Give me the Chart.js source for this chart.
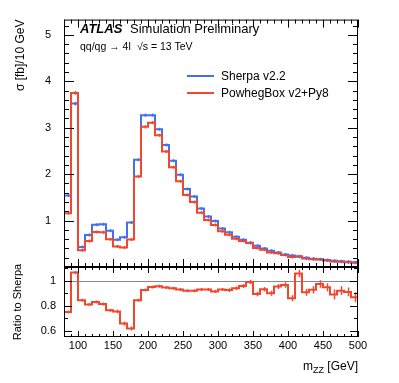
<!DOCTYPE html>
<html>
<head>
<meta charset="utf-8">
<script src="https://cdn.jsdelivr.net/npm/chart.js@4.4.1/dist/chart.umd.min.js"></script>
<style>
  html, body { margin: 0; padding: 0; background: #fff; }
  #wrap { position: relative; width: 399px; height: 383px; font-family: "Liberation Sans", Arial, sans-serif; color: #000; }
  #wrap canvas { position: absolute; left: 0; top: 0; }
  .txt { position: absolute; white-space: nowrap; }
  .key { position: absolute; height: 2px; }
</style>
</head>
<body>
<div id="wrap">
  <canvas id="mainChart" width="399" height="383"></canvas>
  <canvas id="ratioChart" width="399" height="383"></canvas>
  <div class="txt" style="left:80px; top:22px; font-size:13px; line-height:13px; font-weight:bold; font-style:italic;">ATLAS</div>
  <div class="txt" style="left:130px; top:22px; font-size:13px; line-height:13px;">Simulation Preliminary</div>
  <div class="txt" style="left:80px; top:40.5px; font-size:10.5px; line-height:10.5px;">qq/qg → 4l</div>
  <div class="txt" style="left:137px; top:40.5px; font-size:10.5px; line-height:10.5px;">√s = 13 TeV</div>
  <div class="key" id="keySherpa" style="left:187px; top:75px; width:27px;"></div>
  <div class="key" id="keyPowheg" style="left:187px; top:92px; width:27px;"></div>
  <div class="txt" style="left:221px; top:70px; font-size:12px; line-height:12px;">Sherpa v2.2</div>
  <div class="txt" style="left:221px; top:87px; font-size:12px; line-height:12px;">PowhegBox v2+Py8</div>
  <div class="txt" style="right:41px; top:360px; font-size:12px; line-height:12px;">m<span style="font-size:9px; position:relative; top:3px;">ZZ</span> [GeV]</div>
</div>
<script>
// bin lower edges (GeV), last bin ends at 500
var binLow = [80, 90, 100, 110, 120, 130, 140, 150, 160, 170, 180, 190, 200, 210,
  220, 230, 240, 250, 260, 270, 280, 290, 300, 310, 320, 330, 340, 350,
  360, 370, 380, 390, 400, 410, 420, 430, 440, 450, 460, 470, 480, 490];
var binEnd = 500;

// sigma [fb]/10 GeV
var sherpa = [1.54, 3.52, 0.43, 0.69, 0.91, 0.92, 0.78, 0.585, 0.64, 0.96, 2.31, 3.27, 3.27, 2.97,
  2.63, 2.29, 1.99, 1.68, 1.52, 1.26, 1.09, 0.99, 0.83, 0.75, 0.65, 0.585, 0.52, 0.46,
  0.40, 0.35, 0.31, 0.27, 0.25, 0.22, 0.20, 0.18, 0.165, 0.15, 0.135, 0.125, 0.115, 0.105];
var powheg = [1.16, 3.75, 0.36, 0.56, 0.755, 0.75, 0.60, 0.44, 0.42, 0.595, 1.95, 3.02, 3.11, 2.84,
  2.49, 2.15, 1.85, 1.55, 1.40, 1.17, 1.01, 0.905, 0.77, 0.695, 0.61, 0.56, 0.515, 0.41,
  0.373, 0.315, 0.295, 0.261, 0.215, 0.233, 0.182, 0.167, 0.161, 0.142, 0.12, 0.115, 0.105, 0.091];
var histErr = [0.03, 0.04, 0.015, 0.015, 0.02, 0.02, 0.02, 0.015, 0.015, 0.02, 0.03, 0.035, 0.035, 0.03,
  0.03, 0.025, 0.025, 0.02, 0.02, 0.02, 0.015, 0.015, 0.015, 0.012, 0.012, 0.012, 0.01, 0.01,
  0.01, 0.008, 0.008, 0.008, 0.007, 0.007, 0.006, 0.006, 0.006, 0.005, 0.005, 0.005, 0.005, 0.005];

// PowhegBox / Sherpa
var ratio = [0.75, 1.065, 0.845, 0.81, 0.83, 0.815, 0.765, 0.755, 0.66, 0.62, 0.845, 0.925, 0.95, 0.955,
  0.945, 0.94, 0.93, 0.92, 0.92, 0.93, 0.93, 0.915, 0.93, 0.925, 0.94, 0.958, 0.99, 0.895,
  0.932, 0.90, 0.953, 0.966, 0.861, 1.058, 0.908, 0.927, 0.974, 0.948, 0.89, 0.921, 0.911, 0.869];
var ratioErr = [0.012, 0.012, 0.008, 0.008, 0.008, 0.008, 0.01, 0.014, 0.016, 0.016, 0.01, 0.008, 0.008, 0.008,
  0.008, 0.008, 0.008, 0.01, 0.01, 0.01, 0.012, 0.012, 0.012, 0.014, 0.014, 0.016, 0.016, 0.018,
  0.018, 0.02, 0.02, 0.022, 0.024, 0.03, 0.028, 0.028, 0.03, 0.032, 0.04, 0.035, 0.035, 0.04];

var yTicks = [1, 2, 3, 4, 5];
var ratioTicks = [0.6, 0.8, 1];
var xTicks = [100, 150, 200, 250, 300, 350, 400, 450, 500];

var blue = '#4470f0';
var red = '#f2472e';
document.getElementById('keySherpa').style.background = blue;
document.getElementById('keyPowheg').style.background = red;

function histPoints(vals) {
  var pts = binLow.map(function (x, i) { return { x: x, y: vals[i] }; });
  pts.push({ x: binEnd, y: vals[vals.length - 1] });
  return pts;
}

// ROOT-like frame with inward ticks, error bars, unity line
var rootFrame = {
  id: 'rootFrame',
  beforeDatasetsDraw: function (chart, args, opts) {
    if (!opts.unity) return;
    var ctx = chart.ctx, a = chart.chartArea;
    var py = Math.round(chart.scales.y.getPixelForValue(1)) + 0.5;
    ctx.save();
    ctx.strokeStyle = '#888';
    ctx.lineWidth = 1;
    ctx.beginPath();
    ctx.moveTo(a.left, py);
    ctx.lineTo(a.right, py);
    ctx.stroke();
    ctx.restore();
  },
  afterDatasetsDraw: function (chart) {
    var ctx = chart.ctx, xs = chart.scales.x, ys = chart.scales.y;
    ctx.save();
    chart.data.datasets.forEach(function (ds) {
      if (!ds.errors) return;
      ctx.strokeStyle = ds.borderColor;
      ctx.lineWidth = 1.5;
      ctx.beginPath();
      ds.errors.forEach(function (e, i) {
        var px = Math.round(xs.getPixelForValue(binLow[i] + 5)) + 0.5;
        var v = ds.data[i].y;
        var p1 = ys.getPixelForValue(v - e), p2 = ys.getPixelForValue(v + e);
        var c = (p1 + p2) / 2, h = Math.max((p1 - p2) / 2, 1.5);
        ctx.moveTo(px, c - h);
        ctx.lineTo(px, c + h);
      });
      ctx.stroke();
    });
    ctx.restore();
  },
  afterDraw: function (chart, args, opts) {
    var ctx = chart.ctx, a = chart.chartArea, xs = chart.scales.x, ys = chart.scales.y;
    ctx.save();
    ctx.strokeStyle = '#000';
    ctx.lineWidth = 1;
    ctx.strokeRect(a.left + 0.5, a.top + 0.5, a.width - 1, a.height - 1);
    ctx.beginPath();
    for (var v = 80; v <= 500; v += 10) {
      var px = Math.round(xs.getPixelForValue(v)) + 0.5;
      var len = v % 50 === 0 ? opts.xMajor : opts.xMinor;
      ctx.moveTo(px, a.top); ctx.lineTo(px, a.top + len);
      ctx.moveTo(px, a.bottom); ctx.lineTo(px, a.bottom - len);
    }
    for (var k = opts.yFrom; k <= opts.yTo; k++) {
      var val = k * opts.yStep;
      if (val < ys.min || val > ys.max) continue;
      var py = Math.round(ys.getPixelForValue(val)) + 0.5;
      var l = k % opts.yEvery === 0 ? opts.yMajor : opts.yMinor;
      ctx.moveTo(a.left, py); ctx.lineTo(a.left + l, py);
      ctx.moveTo(a.right, py); ctx.lineTo(a.right - l, py);
    }
    ctx.stroke();
    ctx.restore();
  }
};

var font = { family: '"Liberation Sans", Arial, sans-serif', size: 11 };

new Chart('mainChart', {
  type: 'line',
  data: {
    datasets: [{
      label: 'PowhegBox v2+Py8',
      data: histPoints(powheg),
      errors: histErr,
      borderColor: red,
      borderWidth: 2,
      stepped: 'before',
      pointRadius: 0,
      order: 0
    }, {
      label: 'Sherpa v2.2',
      data: histPoints(sherpa),
      errors: histErr,
      borderColor: blue,
      borderWidth: 2,
      stepped: 'before',
      pointRadius: 0,
      order: 1
    }]
  },
  plugins: [rootFrame],
  options: {
    responsive: false,
    animation: false,
    devicePixelRatio: 1,
    layout: { padding: { left: 0, top: 14, right: 41, bottom: 116 } },
    plugins: {
      legend: { display: false },
      tooltip: { enabled: false },
      rootFrame: { xMajor: 8, xMinor: 4, yFrom: 0, yTo: 27, yStep: 0.2, yEvery: 5, yMajor: 10, yMinor: 5 }
    },
    scales: {
      x: { type: 'linear', min: 80, max: 500, display: false },
      y: {
        min: 0, max: 5.33,
        afterFit: function (s) { s.width = 64; },
        afterBuildTicks: function (s) { s.ticks = yTicks.map(function (v) { return { value: v }; }); },
        grid: { display: false, drawTicks: false },
        border: { display: false },
        ticks: { padding: 13, color: '#000', font: font, callback: function (v) { return String(v); } },
        title: { display: true, text: 'σ [fb]/10 GeV', align: 'end', color: '#000',
          font: { family: font.family, size: 12 }, padding: { top: 13, bottom: 0 } }
      }
    }
  }
});

new Chart('ratioChart', {
  type: 'line',
  data: {
    datasets: [{
      label: 'Ratio to Sherpa',
      data: histPoints(ratio),
      errors: ratioErr,
      borderColor: red,
      borderWidth: 2,
      stepped: 'before',
      pointRadius: 0
    }]
  },
  plugins: [rootFrame],
  options: {
    responsive: false,
    animation: false,
    devicePixelRatio: 1,
    layout: { padding: { left: 0, top: 267, right: 41, bottom: 26 } },
    plugins: {
      legend: { display: false },
      tooltip: { enabled: false },
      rootFrame: { unity: true, xMajor: 6, xMinor: 3, yFrom: 6, yTo: 11, yStep: 0.1, yEvery: 2, yMajor: 8, yMinor: 4 }
    },
    scales: {
      x: {
        type: 'linear', min: 80, max: 500,
        afterFit: function (s) { s.height = 20; },
        afterBuildTicks: function (s) { s.ticks = xTicks.map(function (v) { return { value: v }; }); },
        grid: { display: false, drawTicks: false },
        border: { display: false },
        ticks: { padding: 2, color: '#000', font: font, maxRotation: 0, callback: function (v) { return String(v); } }
      },
      y: {
        min: 0.552, max: 1.109,
        afterFit: function (s) { s.width = 64; },
        afterBuildTicks: function (s) { s.ticks = ratioTicks.map(function (v) { return { value: v }; }); },
        grid: { display: false, drawTicks: false },
        border: { display: false },
        ticks: { padding: 8, color: '#000', font: font, callback: function (v) { return String(v); } },
        title: { display: true, text: 'Ratio to Sherpa', align: 'center', color: '#000',
          font: { family: font.family, size: 11 }, padding: { top: 11, bottom: 0 } }
      }
    }
  }
});
</script>
</body>
</html>
